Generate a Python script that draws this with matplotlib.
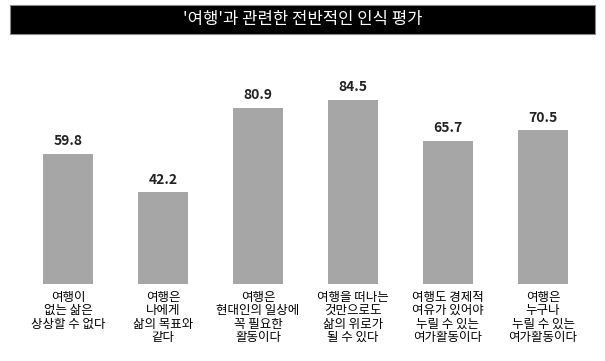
import matplotlib
matplotlib.use("Agg")
import matplotlib.pyplot as plt
import numpy as np

plt.rcParams['font.family'] = ['Noto Sans CJK KR', 'DejaVu Sans']

title = "'여행'과 관련한 전반적인 인식 평가"
labels = [
    "여행이\n없는 삶은\n상상할 수 없다",
    "여행은\n나에게\n삶의 목표와\n같다",
    "여행은\n현대인의 일상에\n꼭 필요한\n활동이다",
    "여행을 떠나는\n것만으로도\n삶의 위로가\n될 수 있다",
    "여행도 경제적\n여유가 있어야\n누릴 수 있는\n여가활동이다",
    "여행은\n누구나\n누릴 수 있는\n여가활동이다",
]
values = [59.8, 42.2, 80.9, 84.5, 65.7, 70.5]

W, H = 605, 361
fig = plt.figure(figsize=(W / 100, H / 100), dpi=100)

# title bar
fig.patches.append(plt.Rectangle((10 / W, 1 - 34 / H), 585 / W, 29 / H,
                                 transform=fig.transFigure, facecolor='black',
                                 edgecolor='#888888', lw=0.8))
fig.text(0.5, 1 - 19.5 / H, title, color='white', ha='center', va='center',
         fontsize=12)

# axes: bar centers at 68 + 95*i px, baseline at y=284 px, 100 -> 218 px
ax = fig.add_axes([(68 - 47.5) / W, (H - 284) / H, 6 * 95 / W, 218 / H])
x = np.arange(len(values))
ax.bar(x, values, width=50 / 95, color='#a6a6a6')
ax.set_xlim(-0.5, 5.5)
ax.set_ylim(0, 100)
ax.axis('off')

for xi, v in zip(x, values):
    ax.text(xi, v + 2.5, f"{v:.1f}", ha='center', va='bottom',
            fontsize=10, fontweight='bold', color='#222222')

# one text per line, ~13.5 px apart
for xi, lab in zip(x, labels):
    for k, line in enumerate(lab.split("\n")):
        ax.text(xi, -6.0 - k * 6.2, line, ha='center', va='center',
                fontsize=9, fontweight='medium', color='black')

fig.savefig('out.png', dpi=100)
